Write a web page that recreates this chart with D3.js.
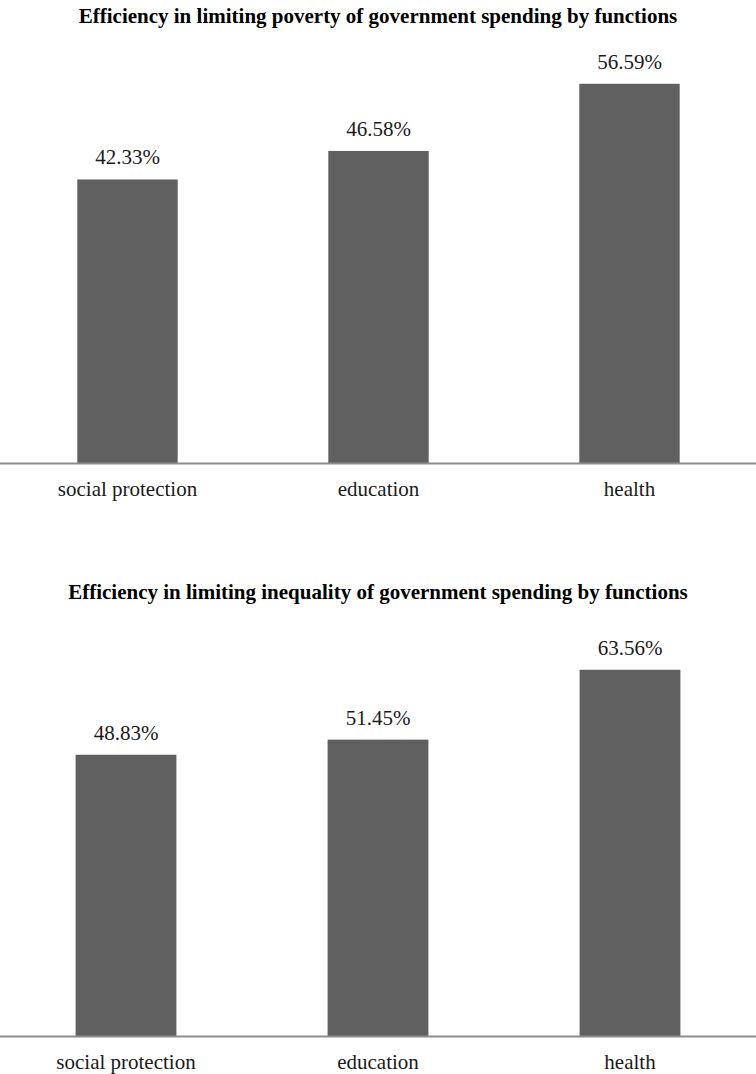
<!DOCTYPE html>
<html><head><meta charset="utf-8">
<script src="https://cdn.jsdelivr.net/npm/d3@7"></script>
<style>body{margin:0;background:#fff}svg{display:block}</style>
</head><body>
<svg id="c" width="756" height="1074"></svg>
<script>
const categories = ["social protection", "education", "health"];
const povertyValues = [42.33, 46.58, 56.59];
const inequalityValues = [48.83, 51.45, 63.56];
const titles = [
  "Efficiency in limiting poverty of government spending by functions",
  "Efficiency in limiting inequality of government spending by functions"
];

const svg = d3.select("#c");
const font = "'Liberation Serif', 'Times New Roman', serif";

function drawChart(values, title, cfg) {
  const g = svg.append("g");
  const x = d3.scaleBand().domain(categories).range(cfg.xRange).paddingInner(0.6).paddingOuter(0.3);
  const y = d3.scaleLinear().domain([0, 60]).range([cfg.base, cfg.base - 60 * cfg.pxPer]);

  g.append("text").attr("x", 378).attr("y", cfg.titleY).attr("text-anchor", "middle")
    .attr("font-family", font).attr("font-weight", "bold").attr("font-size", 21)
    .attr("fill", "#000").text(title);

  g.selectAll("rect").data(values).join("rect")
    .attr("x", (d, i) => x(categories[i]))
    .attr("width", x.bandwidth())
    .attr("y", d => y(d))
    .attr("height", d => y(0) - y(d))
    .attr("fill", "#606060");

  g.selectAll("text.v").data(values).join("text").attr("class", "v")
    .attr("x", (d, i) => x(categories[i]) + x.bandwidth() / 2)
    .attr("y", d => y(d) - 15)
    .attr("text-anchor", "middle").attr("font-family", font).attr("font-size", 21)
    .attr("fill", "#1a1a1a").text(d => d.toFixed(2) + "%");

  const axis = d3.axisBottom(x).tickSize(0).tickPadding(18);
  const ag = g.append("g").attr("transform", `translate(0,${y(0)})`).call(axis);
  ag.select(".domain").attr("d", "M0,0H756").attr("stroke", "#8c8c8c").attr("stroke-width", 2);
  ag.selectAll("text").attr("font-family", font).attr("font-size", 21).attr("fill", "#1a1a1a");
}

drawChart(povertyValues, titles[0], {xRange: [2, 755], base: 463.5, pxPer: 6.71, titleY: 23});
drawChart(inequalityValues, titles[1], {xRange: [0, 756], base: 1036.5, pxPer: 5.77, titleY: 599});
</script>
</body></html>
